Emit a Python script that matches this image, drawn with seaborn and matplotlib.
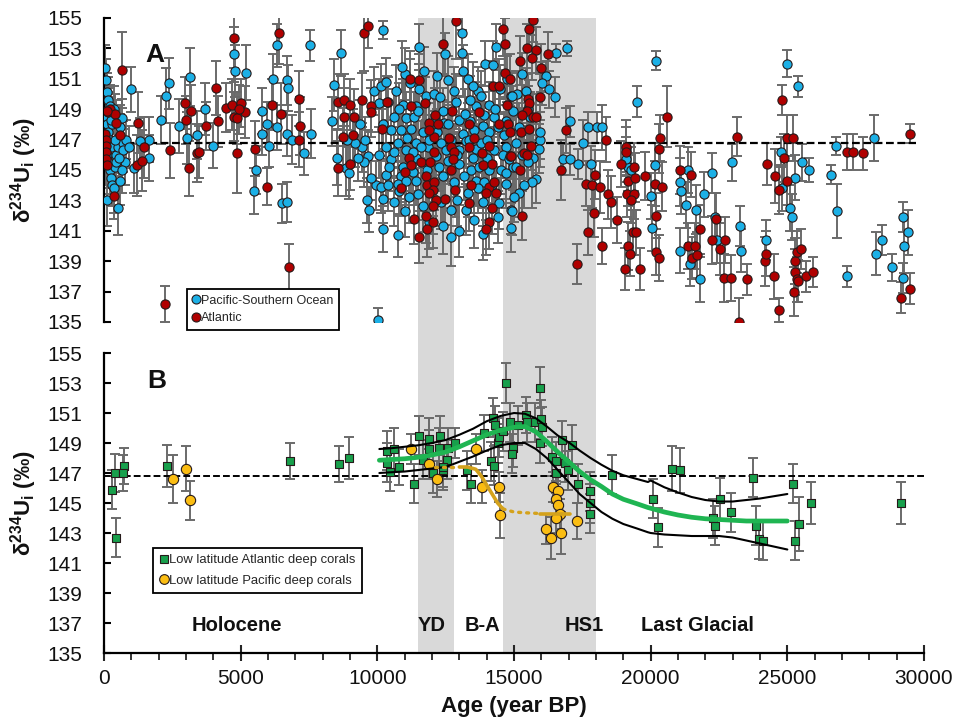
import matplotlib
matplotlib.use("Agg")
import numpy as np
import pandas as pd
import seaborn as sns
import matplotlib.pyplot as plt
from matplotlib.patches import Rectangle
from matplotlib.lines import Line2D
from matplotlib.transforms import blended_transform_factory
from matplotlib.ticker import MultipleLocator

# ---------------- Panel A data: (age, d234U, 2sigma) ----------------
pac_holocene = [
    (50,151.7,1.5),(80,150.9,1.4),(120,150.1,1.3),(150,149.6,1.5),(200,149.2,1.4),(60,148.5,1.2),
    (100,148.0,1.3),(150,147.5,1.2),(200,147.0,1.5),(250,146.5,1.3),(100,146.0,1.4),(150,145.5,1.5),
    (200,145.0,1.6),(250,144.5,1.5),(300,144.0,1.4),(100,143.0,1.7),(350,143.8,1.6),(400,145.2,1.5),
    (450,146.0,1.4),(500,146.5,1.3),(550,147.2,1.2),(600,147.8,1.5),(650,148.4,1.3),(700,146.8,1.4),
    (750,145.5,1.5),(600,144.3,1.6),(650,145.0,1.5),(500,142.5,1.8),(700,146.3,1.4),(400,147.0,1.3),
    (300,148.0,1.4),(350,149.0,1.5),(450,145.5,1.4),(800,147.0,1.3),(900,146.5,1.4),(250,148.3,1.5),
    (550,145.8,1.4),(1000,150.3,1.5),(1100,145.1,1.6),(1650,147.0,1.5),(1650,145.8,1.5),(1300,146.9,1.5),
    (2074,148.3,1.6),(2257,149.9,1.8),(2379,150.7,1.7),(2745,147.9,1.8),(3135,151.1,1.9),(3050,147.1,1.7),
    (3391,147.3,1.6),(3697,149.0,1.7),(4002,146.6,1.5),(4758,152.6,1.8),(4795,151.5,1.7),(5210,151.4,1.8),
    (5551,145.0,1.6),(5490,143.6,1.5),(5771,148.9,1.5),(5795,147.4,1.4),(5954,148.0,1.5),(6039,146.6,1.4),
    (6185,151.0,1.6),(6332,147.8,1.5),(6344,153.2,1.4),(6710,150.9,1.6),(6747,150.4,1.5),(6527,142.8,1.3),
    (6686,142.9,1.3),(6710,147.4,1.5),(6869,147.0,1.6),(7320,146.1,1.4),(7527,153.2,1.0),(7588,147.4,1.6),
]
pac_deglacial = [
    (8669,152.7,1.5),(8424,150.6,1.7),(8339,148.2,1.6),(8535,145.8,1.8),(8864,145.1,1.8),(8974,144.8,1.7),
    (9890,150.2,1.6),(10134,150.5,1.5),(10073,149.4,1.6),(9707,142.4,1.5),(10220,141.1,1.5),(10769,140.7,1.4),
    (10195,154.2,0.6),(9451,146.5,1.6),(9670,145.9,1.7),(9963,144.0,1.6),(9780,144.5,1.5),(9500,145.5,1.6),
    (9300,145.8,1.5),(9200,146.8,1.6),(9550,147.0,1.5),(10050,146.0,1.5),(9350,148.0,1.6),(8900,147.0,1.7),
    (10012,135.1,0.8),(9634,143.0,1.5),
    (11538,153.1,1.5),(12490,152.6,1.4),(13101,154.0,1.6),(13101,152.7,1.5),(14346,153.1,1.5),(11025,151.3,1.7),
    (12576,150.9,1.6),(13125,151.5,1.7),(13308,151.0,1.6),(13943,152.0,1.5),(14224,151.9,1.6),(13675,150.2,1.6),
    (11538,150.3,1.7),(11782,149.9,1.6),(12088,150.0,1.5),(10927,149.3,1.7),(11416,149.2,1.6),(12882,149.5,1.8),
    (13614,149.2,1.6),(14102,149.3,1.5),(14896,149.9,1.6),(10622,148.5,1.8),(11050,148.4,1.7),(11355,148.5,1.6),
    (12393,148.9,1.5),(13003,148.3,1.6),(13858,147.9,1.6),(14285,148.5,1.7),(10500,147.6,1.8),(10866,147.6,1.7),
    (11233,147.7,1.6),(11660,147.5,1.7),(12454,148.1,1.5),(13125,147.4,1.6),(13553,147.6,1.7),(14102,147.5,1.6),
    (14651,147.3,1.5),(14957,148.9,1.6),(10317,146.5,1.8),(10744,146.8,1.7),(11050,146.3,1.6),(11416,146.8,1.7),
    (11843,146.5,1.6),(12332,146.8,1.5),(13003,146.3,1.6),(13247,146.9,1.7),(13614,146.4,1.6),(14285,146.3,1.5),
    (14712,146.5,1.6),(15079,146.8,1.7),(10500,145.7,1.7),(10927,145.2,1.6),(11416,145.8,1.7),(12271,145.2,1.6),
    (13003,145.4,1.5),(13430,145.0,1.6),(13736,145.2,1.7),(14529,145.0,1.6),(14957,145.2,1.5),(10317,144.7,1.6),
    (10866,144.6,1.7),(11416,144.3,1.6),(12393,144.6,1.5),(13186,144.6,1.6),(13614,144.3,1.7),(14712,144.1,1.6),
    (10134,143.9,1.7),(10805,143.6,1.6),(11477,143.4,1.7),(12332,142.9,1.8),(12698,142.4,1.9),(13247,142.4,1.7),
    (13858,142.9,1.6),(14468,142.8,1.7),(14896,142.4,1.6),(10195,143.1,1.6),(10744,144.1,1.5),(10439,145.2,1.6),
    (11660,142.6,1.7),(13553,141.7,1.8),(13858,140.8,1.7),(12698,140.6,1.9),(11172,143.2,1.7),(11050,144.3,1.6),
    (11900,147.0,1.6),(12200,147.5,1.5),(12700,147.0,1.6),(12900,146.0,1.5),(13400,148.2,1.6),(13800,146.8,1.5),
    (14000,145.8,1.6),(14400,147.8,1.5),(14700,148.2,1.6),(12600,145.6,1.5),(11800,145.0,1.6),(12000,144.0,1.5),
    (13300,143.5,1.6),(14200,144.0,1.5),(11300,146.2,1.5),(10600,146.2,1.6),(12100,148.3,1.5),(12800,144.2,1.6),
    (13900,144.2,1.5),(14600,146.0,1.5),(10200,148.0,1.6),(10400,149.5,1.6),(10700,150.2,1.7),(11200,150.7,1.6),
    (12300,149.8,1.5),(13500,150.5,1.6),(14500,150.3,1.6),(15100,150.0,1.5),
    (10300,150.8,1.6),(10900,151.8,1.7),(11700,151.5,1.6),(12200,151.2,1.5),(12800,150.2,1.6),(13400,149.6,1.6),
    (13900,148.6,1.5),(14300,149.0,1.6),(10800,149.0,1.7),(11500,148.9,1.6),(12600,148.0,1.5),(13200,148.7,1.6),
    (11100,147.1,1.6),(11600,146.5,1.7),(12500,146.3,1.6),(13500,145.8,1.5),(14100,145.0,1.6),(14800,145.7,1.6),
    (10400,144.0,1.7),(11300,144.9,1.6),(12900,143.0,1.7),(13700,143.8,1.6),(14400,141.9,1.7),(11900,141.6,1.8),
    (12400,141.3,1.8),(13000,141.0,1.7),(14000,147.0,1.5),(13800,149.9,1.6),(14750,151.0,1.5),(15300,151.3,1.4),
    (15500,149.0,1.5),(15200,143.5,1.6),(15700,145.8,1.5),(14900,141.2,1.6),(11000,142.3,1.7),(10600,142.9,1.6),
    (12150,145.9,1.6),(13350,147.0,1.6),
    (16935,153.0,0.5),(16545,152.7,0.6),(16154,151.2,1.0),(16276,150.3,1.2),(16032,150.7,1.4),(16484,149.8,1.3),
    (15446,150.2,1.5),(14933,149.9,1.5),(17033,148.2,1.0),(17705,147.8,1.0),(18035,147.8,1.0),(17522,146.8,1.5),
    (16789,145.7,1.0),(17033,145.7,1.0),(17339,145.4,1.0),(17827,145.4,1.2),(15934,147.0,1.8),(15958,147.5,1.8),
    (15910,146.4,1.6),(15812,144.4,1.6),(15666,144.2,1.7),(14982,143.2,1.6),(14933,142.3,1.6),(15079,145.2,1.6),
    (14713,144.8,1.7),(15300,146.0,1.6),(15500,145.5,1.5),(15200,147.8,1.6),(15600,148.5,1.6),(15350,144.0,1.5),
]
pac_glacial = [
    (19512,149.5,1.0),(20183,152.2,0.6),(20147,145.3,1.5),(20025,143.3,1.5),(20061,141.2,1.5),(19170,145.2,1.6),
    (19292,145.0,1.5),(19109,145.7,1.5),(18230,147.8,1.5),(21087,144.2,1.6),(21099,143.6,1.5),(21282,142.7,1.5),
    (21087,139.7,1.5),(21429,138.8,1.4),(21649,142.4,1.6),(21368,145.0,1.5),(21942,143.4,1.5),(21795,137.8,1.5),
    (22259,144.8,1.3),(22344,141.9,1.6),(22430,140.4,1.5),(22992,145.5,1.2),(23285,141.3,1.3),(23322,139.7,1.4),
    (24213,140.4,1.3),(24786,146.2,1.0),(24823,143.8,1.5),(24970,152.0,0.9),(25397,150.5,0.7),(25092,142.5,1.5),
    (25189,141.9,1.5),(25275,144.5,1.5),(25519,145.5,1.2),(25800,145.0,0.8),(26581,144.7,0.6),(26801,142.3,1.8),
    (26777,146.6,0.6),(27192,138.0,0.7),(28168,147.1,1.5),(28242,139.5,1.4),(28449,140.4,1.0),(28816,138.6,0.9),
    (29243,141.9,1.0),(29426,140.9,1.5),(29267,140.0,1.8),(29218,137.9,1.0),
]
atl_holocene = [
    (50,147.4,1.5),(60,147.0,1.5),(70,146.6,1.4),(80,146.2,1.5),(90,145.7,1.6),(100,145.3,1.5),(150,148.8,1.3),
    (200,149.0,1.4),(350,143.3,1.5),(400,148.7,1.3),(450,148.1,1.5),(600,147.3,1.4),(100,148.9,1.5),(671,151.6,2.5),
    (1257,148.1,2.0),(1464,146.5,2.0),(1196,145.3,2.0),(1379,145.6,2.0),(2220,136.2,1.2),(2403,146.3,1.8),
    (2965,149.4,1.7),(2989,148.3,1.6),(3172,148.9,1.7),(3111,145.1,1.8),(3416,146.1,1.9),(3477,146.2,1.7),
    (3721,147.9,1.6),(4087,150.4,1.8),(4185,148.2,1.7),(4453,149.1,1.6),(4673,149.3,1.7),(4758,153.7,2.0),
    (5002,149.4,1.6),(5161,148.8,1.7),(4758,148.5,1.6),(4880,148.4,1.7),(4856,146.1,2.6),(4941,149.0,1.6),
    (5527,146.4,1.8),(5978,143.9,1.2),(6161,149.3,1.7),(6405,154.0,2.0),(6466,148.7,2.0),(6771,138.6,1.5),
    (7137,149.7,1.8),(7174,147.9,1.9),(7137,147.0,1.8),
]
atl_deglacial = [
    (9523,154.0,2.5),(9645,154.5,1.5),(8547,149.5,1.8),(8791,149.6,1.7),(8998,149.3,1.7),(8766,148.5,1.9),
    (9133,148.5,1.8),(8730,147.2,1.9),(9096,147.3,1.7),(8547,145.1,1.8),(9011,145.4,1.7),(9438,149.6,1.8),
    (9768,149.2,1.7),(9768,148.8,1.6),(10354,149.5,1.7),(10171,147.7,1.8),
    (11196,151.0,1.8),(11514,150.9,1.7),(11233,149.2,1.8),(11758,149.4,1.7),(11904,148.1,1.8),(12210,148.0,1.7),
    (12125,148.6,1.8),(12088,147.2,1.7),(11904,147.6,1.8),(12735,148.9,1.7),(12637,147.1,1.8),(12698,146.5,1.7),
    (12820,146.2,1.8),(12760,145.7,1.7),(12698,145.0,1.8),(12088,146.2,1.7),(11599,145.5,1.8),(11941,145.5,1.7),
    (11172,145.8,1.8),(11233,145.3,1.7),(11025,144.9,1.8),(10866,143.8,1.7),(11782,144.6,1.8),(11819,144.0,1.7),
    (12088,144.2,1.8),(12027,143.7,1.7),(11904,143.5,1.8),(12149,143.0,1.7),(12027,142.6,1.8),(12490,143.1,1.7),
    (12857,143.7,1.8),(11355,141.8,1.7),(11782,142.0,1.8),(12027,141.6,1.7),(11807,141.1,1.8),(11538,140.6,1.7),
    (12882,154.8,2.5),(12393,153.3,2.0),(13370,148.0,1.8),(13370,146.5,1.7),(13736,148.8,1.8),(13528,147.1,1.7),
    (13834,146.1,1.8),(13882,145.3,1.7),(14200,145.4,1.8),(14078,146.6,1.7),(13430,144.0,1.8),(14078,143.9,1.7),
    (13980,143.5,1.8),(14346,143.5,1.7),(14285,144.2,1.8),(14200,142.5,1.7),(14078,141.6,1.8),(13980,141.1,1.7),
    (13345,142.8,1.8),(14468,148.0,1.7),(14773,148.0,1.8),(14835,147.5,1.7),(14871,145.9,1.8),(14224,150.5,1.7),
    (14468,150.5,1.8),(14737,149.3,1.7),
    (15678,154.9,1.5),(15531,154.3,1.5),(14615,154.3,1.8),(14652,153.3,1.7),(15458,153.0,1.6),(15788,152.9,1.5),
    (15201,152.2,1.6),(15641,152.4,1.5),(16227,152.6,1.5),(15970,151.7,1.6),(14652,151.4,1.7),(14835,151.0,1.6),
    (15958,149.8,1.5),(15507,149.7,1.6),(15543,149.4,1.5),(15470,148.9,1.6),(15690,148.5,1.5),(15299,148.6,1.6),
    (15788,148.5,1.5),(15263,147.5,1.6),(15543,147.7,1.5),(15629,146.6,1.6),(14896,145.9,1.5),(15348,146.1,1.6),
    (15470,146.0,1.5),(15202,145.0,1.6),(15299,142.0,1.6),(16886,147.6,1.5),(16728,145.0,2.0),(18352,147.0,1.5),
    (17302,138.8,1.3),
]
atl_glacial = [
    (17644,144.1,1.5),(17863,144.0,1.5),(17949,144.7,1.6),(18132,143.9,1.7),(17912,142.2,1.6),(17705,140.9,1.5),
    (18230,140.0,1.2),(18437,143.4,1.6),(18535,142.9,1.7),(18779,141.7,1.5),(19084,146.5,1.8),(19109,146.2,1.6),
    (18926,145.4,1.5),(19377,145.2,1.6),(19170,144.3,1.7),(19414,144.5,1.6),(19133,143.4,1.5),(19377,143.4,1.6),
    (19292,143.0,1.5),(19353,140.9,1.5),(19475,140.9,1.5),(19170,140.0,1.6),(19231,139.5,1.5),(19048,138.5,1.4),
    (19621,138.5,1.4),(19805,144.6,1.6),(20147,144.1,1.5),(20427,143.9,1.6),(20208,142.0,1.5),(20305,146.4,1.6),
    (20330,147.1,1.5),(20598,148.5,2.0),(20208,139.6,1.5),(20305,139.2,1.5),(21062,145.0,1.6),(21466,144.7,1.5),
    (21368,140.0,1.5),(21612,140.0,1.5),(21527,139.2,1.4),(21698,139.4,1.5),(21820,141.1,1.6),(22405,141.8,1.7),
    (22259,140.4,1.6),(22527,139.8,1.7),(22711,140.4,1.5),(22674,137.9,1.6),(22955,137.9,1.5),(23529,137.8,1.0),
    (23236,135.0,1.6),(23163,147.2,1.3),(24261,145.4,1.4),(24542,144.6,1.8),(24701,143.7,1.6),(24970,144.3,1.6),
    (24884,145.8,1.6),(24823,149.6,1.0),(24994,147.1,1.5),(25214,147.1,1.5),(24200,139.0,1.6),(24237,139.5,1.5),
    (24505,138.0,1.5),(24689,135.8,0.8),(25275,139.0,1.5),(25336,139.6,1.4),(25482,139.8,1.3),(25287,138.3,1.5),
    (25336,137.8,1.5),(25678,138.0,1.0),(25922,138.3,1.0),(25250,137.0,1.6),(25397,137.7,1.4),(27192,146.2,1.2),
    (27387,146.2,1.2),(27753,146.1,1.1),(29487,147.4,0.6),(29487,137.2,1.0),(29145,136.6,1.0),
]

# ---------------- Panel B data ----------------
atl_deep = [
    (281,145.9,1.3),(452,142.7,1.3),(390,147.0,1.25),(733,147.5,1.2),(708,147.0,1.2),(2295,147.5,1.4),
    (6802,147.8,1.2),(8584,147.6,1.2),(8950,148.0,1.4),
    (10342,148.5,1.3),(10622,148.6,1.4),(10342,147.7,1.3),(10464,147.1,1.3),(10806,147.4,1.2),(11355,146.3,1.3),
    (11514,149.5,1.3),(11904,148.6,1.3),(11880,149.3,1.4),(12295,149.5,1.3),(12246,148.7,1.3),(12576,148.7,1.3),
    (12857,149.0,1.0),(12540,147.9,1.3),(12393,147.2,1.3),(12027,147.0,1.3),(11660,147.9,1.3),(12417,147.4,1.3),
    (13272,147.2,1.3),(13431,146.3,1.3),(13919,149.7,1.2),(14163,147.8,1.3),(14285,147.5,1.3),(14249,150.7,1.3),
    (14322,150.2,1.3),(14407,149.0,1.3),(14712,153.0,1.35),(14859,150.4,1.3),(14957,148.7,1.3),(14932,148.3,1.3),
    (15421,150.9,1.2),(15470,150.4,1.3),(15751,150.4,1.3),(15958,152.7,1.35),(15995,150.6,1.3),(16031,150.1,1.3),
    (15934,149.0,1.3),(16398,148.1,1.3),(16520,147.8,1.3),(16764,149.2,1.3),(17130,148.9,1.3),(16850,147.7,1.3),
    (16972,147.2,1.3),(16545,147.0,1.3),(17338,146.3,1.3),(17790,145.8,1.3),(17790,145.0,1.3),(17765,144.3,1.3),
    (14468,149.4,1.3),(15140,150.2,1.3),(14600,149.8,1.3),
    (18596,146.9,1.3),(20086,145.3,1.3),(20269,143.4,1.3),(20793,147.3,1.5),(21062,147.2,1.5),(22283,144.0,1.3),
    (22344,143.5,1.3),(22527,145.3,1.4),(22955,144.4,1.3),(23748,146.7,1.3),(23870,143.5,1.3),(23968,142.6,1.3),
    (24115,142.5,1.3),(25214,146.3,1.3),(25275,142.5,1.3),(25421,143.6,1.8),(25849,145.0,1.4),(29158,145.0,1.4),
]
pac_deep = [
    (2527,146.6,1.6),(3016,147.3,1.5),(3150,145.2,1.3),(11233,148.6,1.0),(11880,147.6,1.0),(12173,146.6,1.2),
    (13614,148.6,1.0),(13834,146.1,1.1),(14468,146.1,1.0),(14493,144.2,1.5),(16423,146.1,1.0),(16606,145.8,1.0),
    (16545,145.3,1.0),(16606,144.9,1.0),(16667,144.3,1.0),(16545,144.0,1.0),(16154,143.3,1.0),(16362,142.7,1.4),
    (16728,143.0,1.4),(17302,143.8,1.2),
]

fit_age =   [10073,10500,11000,11500,12000,12500,13000,13500,14000,14500,15000,15400,15800,16200,16600,17000,
             17400,17800,18200,18600,19000,19500,19900,20000,20500,21000,21500,22000,22500,23000,23500,24000,24500,25000]
fit_mean =  [147.85,147.9,147.95,148.05,148.2,148.4,148.75,149.15,149.55,149.85,150.05,150.1,149.75,149.1,148.4,147.75,
             147.1,146.55,146.1,145.6,145.25,144.95,144.7,144.65,144.4,144.2,144.05,143.95,143.9,143.85,143.8,143.8,143.8,143.8]
fit_upper = [148.6,148.65,148.75,148.85,149.0,149.2,149.55,149.95,150.45,150.8,151.0,150.95,150.65,150.1,149.5,149.05,
             148.5,148.0,147.55,147.15,146.85,146.6,146.4,146.5,146.05,145.7,145.4,145.2,145.1,145.1,145.2,145.3,145.45,145.6]
fit_lower = [147.0,147.05,147.1,147.2,147.3,147.4,147.75,148.1,148.5,148.85,149.0,149.0,148.6,148.0,147.2,146.4,
             145.6,145.0,144.4,143.95,143.6,143.3,143.05,143.0,142.9,142.85,142.8,142.8,142.8,142.7,142.5,142.3,142.1,141.9]

gold_dot1_age = [12100, 13000];               gold_dot1_val = [147.4, 147.4]
gold_solid1_age = [13000,13300,13600,13800,14000,14200,14400,14600]
gold_solid1_val = [147.4,147.4,147.25,146.8,146.2,145.6,145.0,144.6]
gold_dot2_age = [14600,15000,15400,15950];    gold_dot2_val = [144.6,144.4,144.35,144.3]
gold_solid2_age = [15950,16500,17050];        gold_solid2_val = [144.3,144.3,144.3]

period_names = ["Holocene", "YD", "B-A", "HS1", "Last Glacial"]
period_x = [4870, 12000, 13850, 17580, 21720]
shade_bands = [(11500, 12800), (14600, 18000)]
mean_d234 = 146.8

# ---------------- styling ----------------
sns.set_theme(style="ticks")
plt.rcParams["font.family"] = ["Liberation Sans", "DejaVu Sans"]
plt.rcParams["mathtext.fontset"] = "custom"
plt.rcParams["mathtext.rm"] = "Liberation Sans"
plt.rcParams["mathtext.it"] = "Liberation Sans:italic"
plt.rcParams["mathtext.bf"] = "Liberation Sans:bold"

C_PAC = "#1cb0e6"
C_ATL = "#b00000"
C_GRN = "#18a04c"
C_YEL = "#fbbd12"
C_ERR = "#6a6a6a"
C_EDGE = "#261a1a"
C_FIT = "#1fb552"
C_GOLD = "#d4a21c"
TXT = "#111111"

fig = plt.figure(figsize=(9.58, 7.28), dpi=100)
axA = fig.add_axes([0.1086, 0.5577, 0.8559, 0.4176])
axB = fig.add_axes([0.1086, 0.1030, 0.8559, 0.4121])
for ax in (axA, axB):
    ax.patch.set_visible(False)
    ax.set_xlim(0, 30000)
    ax.set_ylim(135, 155)

# grey bands spanning both panels
tr = blended_transform_factory(axB.transData, fig.transFigure)
for x0, x1 in shade_bands:
    fig.add_artist(Rectangle((x0, 0.1030), x1 - x0, 0.9753 - 0.1030, transform=tr,
                             facecolor="#d9d9d9", edgecolor="none", zorder=-5))


def frame(rows):
    return pd.DataFrame(rows, columns=["age", "d234", "err"])


pac = frame(pac_holocene + pac_deglacial + pac_glacial)
atl = frame(atl_holocene + atl_deglacial + atl_glacial)
grn = frame(atl_deep)
yel = frame(pac_deep)

# ---------------- Panel A ----------------
axA.plot([0, 29700], [mean_d234] * 2, ls=(0, (3.5, 1.6)), color="black", lw=1.6, zorder=2.5)
for df, col in ((pac, C_PAC), (atl, C_ATL)):
    axA.errorbar(df["age"], df["d234"], yerr=df["err"], fmt="none", ecolor=C_ERR,
                 elinewidth=1.4, capsize=3.6, capthick=1.4, zorder=2)
    sns.scatterplot(data=df, x="age", y="d234", ax=axA, color=col, s=44, marker="o",
                    edgecolor=C_EDGE, linewidth=0.8, zorder=3, legend=False)

axA.text(1500, 152.1, "A", fontsize=19, fontweight="bold", va="baseline", ha="left", color=TXT)

hA = [Line2D([], [], ls="none", marker="o", ms=6.5, mfc=C_PAC, mec=C_EDGE, mew=0.8),
      Line2D([], [], ls="none", marker="o", ms=6.5, mfc=C_ATL, mec=C_EDGE, mew=0.8)]
legA = fig.legend(hA, ["Pacific-Southern Ocean", "Atlantic"], loc="lower left",
                  bbox_to_anchor=(0.195, 0.547), bbox_transform=fig.transFigure,
                  fontsize=9.0, frameon=True, fancybox=False, framealpha=1, edgecolor="black",
                  handlelength=0.6, handletextpad=0.08, labelspacing=0.45, borderpad=0.45,
                  borderaxespad=0)
legA.get_frame().set_linewidth(1.3)

# ---------------- Panel B ----------------
axB.plot([0, 30000], [mean_d234] * 2, ls=(0, (3.5, 1.6)), color="black", lw=1.4, zorder=2.5)
for df, col, mk, sz in ((grn, C_GRN, "s", 36), (yel, C_YEL, "o", 55)):
    axB.errorbar(df["age"], df["d234"], yerr=df["err"], fmt="none", ecolor=C_ERR,
                 elinewidth=1.4, capsize=3.6, capthick=1.4, zorder=2)
    sns.scatterplot(data=df, x="age", y="d234", ax=axB, color=col, s=sz, marker=mk,
                    edgecolor=C_EDGE, linewidth=0.8, zorder=3, legend=False)

fit = pd.DataFrame({"age": fit_age, "mean": fit_mean, "upper": fit_upper, "lower": fit_lower})
sns.lineplot(data=fit, x="age", y="upper", ax=axB, color="black", lw=1.5, zorder=4, sort=False)
sns.lineplot(data=fit, x="age", y="lower", ax=axB, color="black", lw=1.5, zorder=4, sort=False)
sns.lineplot(data=fit, x="age", y="mean", ax=axB, color=C_FIT, lw=3.4, zorder=4.5, sort=False)
axB.plot(gold_dot1_age, gold_dot1_val, color=C_GOLD, lw=2.4, ls=(0, (0.6, 1.8)),
         dash_capstyle="round", zorder=4)
axB.plot(gold_solid1_age, gold_solid1_val, color=C_GOLD, lw=2.6, zorder=4)
axB.plot(gold_dot2_age, gold_dot2_val, color=C_GOLD, lw=2.4, ls=(0, (0.6, 1.8)),
         dash_capstyle="round", zorder=4)
axB.plot(gold_solid2_age, gold_solid2_val, color=C_GOLD, lw=2.6, zorder=4)

axB.text(1575, 152.7, "B", fontsize=19, fontweight="bold", va="baseline", ha="left", color=TXT)
for name, xp in zip(period_names, period_x):
    axB.text(xp, 136.5, name, fontsize=14.5, fontweight="bold", ha="center", va="baseline", color=TXT)

hB = [Line2D([], [], ls="none", marker="s", ms=6, mfc=C_GRN, mec=C_EDGE, mew=0.8),
      Line2D([], [], ls="none", marker="o", ms=7, mfc=C_YEL, mec=C_EDGE, mew=0.8)]
legB = fig.legend(hB, ["Low latitude Atlantic deep corals", "Low latitude Pacific deep corals"],
                  loc="lower left", bbox_to_anchor=(0.160, 0.185), bbox_transform=fig.transFigure,
                  fontsize=9.4, frameon=True, fancybox=False, framealpha=1, edgecolor="black",
                  handlelength=0.6, handletextpad=0.08, labelspacing=0.65, borderpad=0.5,
                  borderaxespad=0)
legB.get_frame().set_linewidth(1.3)

# ---------------- axes cosmetics ----------------
ylab = "δ$^{\\mathbf{234}}$U$_{\\mathbf{i}}$ (‰)"
for ax in (axA, axB):
    ax.set_yticks(np.arange(135, 156, 2))
    ax.tick_params(axis="y", direction="in", length=5, width=1.5, pad=16, labelsize=15,
                   labelcolor=TXT, color="black", left=True)
    ax.spines["left"].set_linewidth(1.6)
    ax.spines["left"].set_color("black")
    ax.spines["top"].set_visible(False)
    ax.spines["right"].set_visible(False)
    ax.set_ylabel(ylab, fontsize=16, fontweight="bold", labelpad=6, color=TXT)

axA.spines["bottom"].set_visible(False)
axA.set_xticks([])
axA.set_xlabel("")

axB.spines["bottom"].set_linewidth(1.6)
axB.spines["bottom"].set_color("black")
axB.xaxis.set_major_locator(MultipleLocator(5000))
axB.xaxis.set_minor_locator(MultipleLocator(1000))
axB.tick_params(axis="x", which="major", direction="inout", length=11, width=1.5, pad=6,
                labelsize=15, labelcolor=TXT, bottom=True)
axB.tick_params(axis="x", which="minor", direction="out", length=5, width=1.3, bottom=True)
axB.set_xlabel("Age (year BP)", fontsize=16, fontweight="bold", labelpad=6, color=TXT)

fig.savefig("out.png", dpi=100)
